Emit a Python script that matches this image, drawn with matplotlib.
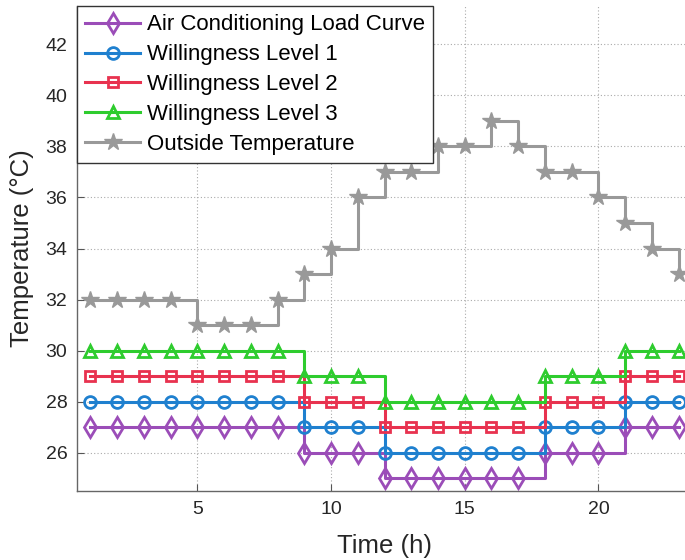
import matplotlib.pyplot as plt

plt.rcParams['font.family'] = ['Liberation Sans', 'DejaVu Sans']

# 时间 (h)
hours = list(range(1, 24))

# 各曲线数值 (°C)
ac_load = [27]*8 + [26]*3 + [25]*6 + [26]*3 + [27]*3
level1 = [28]*8 + [27]*3 + [26]*6 + [27]*3 + [28]*3
level2 = [29]*8 + [28]*3 + [27]*6 + [28]*3 + [29]*3
level3 = [30]*8 + [29]*3 + [28]*6 + [29]*3 + [30]*3
outside = [32, 32, 32, 32, 31, 31, 31, 32, 33, 34, 36, 37,
           37, 38, 38, 39, 38, 37, 37, 36, 35, 34, 33]

labels = ['Air Conditioning Load Curve', 'Willingness Level 1',
          'Willingness Level 2', 'Willingness Level 3', 'Outside Temperature']

series = [
    (ac_load, '#9B4DB8', 'd', 10),
    (level1, '#1F80CF', 'o', 8.5),
    (level2, '#E8324F', 's', 7),
    (level3, '#2ECC2E', '^', 9),
    (outside, '#999999', '*', 13),
]

fig = plt.figure(figsize=(6.85, 5.6), dpi=100)
ax = fig.add_axes([77/685, 1 - 491/560, 615/685, 485/560])

for (vals, color, mk, ms), lab in zip(series, labels):
    if mk == '*':
        ax.plot(hours, vals, drawstyle='steps-post', color=color, lw=2.2,
                marker=mk, ms=ms, mfc=color, mec=color, label=lab)
    else:
        ax.plot(hours, vals, drawstyle='steps-post', color=color, lw=2.2,
                marker=mk, ms=ms, mfc='none', mec=color, mew=2.0, label=lab)

ax.set_xlim(0.5, 23.5)
ax.set_ylim(24.5, 43.5)
ax.set_xticks([5, 10, 15, 20])
ax.set_yticks(range(26, 43, 2))
ax.tick_params(direction='in', length=5, color='#555555', labelsize=14,
               labelcolor='#262626', pad=7)
ax.grid(True, linestyle=(0, (1, 2)), color='#aaaaaa', linewidth=0.8)
ax.set_axisbelow(True)
for side in ['top', 'right']:
    ax.spines[side].set_visible(False)
for side in ['left', 'bottom']:
    ax.spines[side].set_color('#666666')
    ax.spines[side].set_linewidth(1.0)

ax.set_xlabel('Time (h)', fontsize=18.5, color='#262626', labelpad=12)
ax.set_ylabel('Temperature (°C)', fontsize=18.5, color='#262626', labelpad=8)

leg = ax.legend(loc='upper left', fontsize=16, frameon=True, fancybox=False,
                edgecolor='#333333', framealpha=1, borderaxespad=0,
                handlelength=2.45, borderpad=0.38, labelspacing=0.4,
                handletextpad=0.3)
leg.get_frame().set_linewidth(1.0)

fig.savefig('out.png', dpi=100)
